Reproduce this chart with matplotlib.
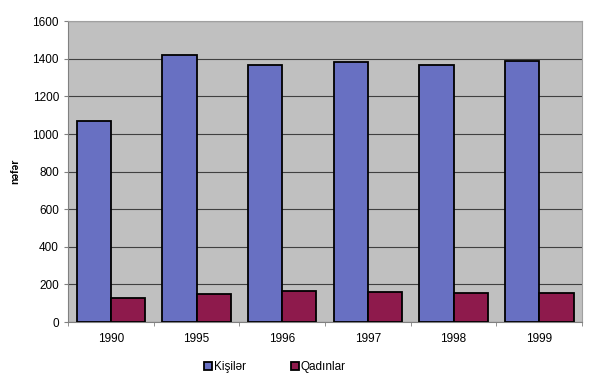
import matplotlib
matplotlib.use("Agg")
import matplotlib.pyplot as plt
import numpy as np

years = ["1990", "1995", "1996", "1997", "1998", "1999"]
men = [1070, 1418, 1367, 1381, 1367, 1388]
women = [126, 149, 166, 160, 156, 156]
series_labels = ["Kişilər", "Qadınlar"]

plt.rcParams['font.family'] = ['Liberation Sans', 'DejaVu Sans']

fig = plt.figure(figsize=(5.91, 3.78), dpi=100)
ax = fig.add_axes([0.115, 0.148, 0.87, 0.796])
ax.set_facecolor('#C0C0C0')

x = np.arange(len(years))
w = 0.4
ax.bar(x - w/2, men, w, color='#6870C2', edgecolor='black', linewidth=1.3, label=series_labels[0], zorder=3)
ax.bar(x + w/2, women, w, color='#8E1A4C', edgecolor='black', linewidth=1.3, label=series_labels[1], zorder=3)

ax.set_xlim(-0.5, len(years) - 0.5)
ax.set_ylim(0, 1600)
ax.set_yticks(range(0, 1601, 200))
ax.yaxis.grid(True, color='#404040', linewidth=0.8, zorder=0)
ax.set_axisbelow(True)

ax.set_xticks(x)
ax.set_xticklabels(years, fontsize=8.5)
ax.set_xticks(np.arange(-0.5, len(years), 1), minor=True)
ax.tick_params(axis='x', which='major', length=0, pad=8)
ax.tick_params(axis='x', which='minor', length=3, color='#808080')
ax.tick_params(axis='y', labelsize=8.5, length=3, color='#808080')

for s in ['top', 'right']:
    ax.spines[s].set_color('#A0A0A0')
    ax.spines[s].set_linewidth(0.8)
ax.spines['left'].set_color('#808080')
ax.spines['bottom'].set_color('#808080')

ax.set_ylabel('nəfər', fontsize=7.5, fontweight='bold', labelpad=9)

leg = fig.legend(loc='lower center', bbox_to_anchor=(0.465, -0.015), ncol=2, frameon=False,
                 fontsize=8.5, handlelength=0.7, handleheight=0.7, handletextpad=0.15,
                 columnspacing=3.8)

fig.savefig('out.png', dpi=100)
